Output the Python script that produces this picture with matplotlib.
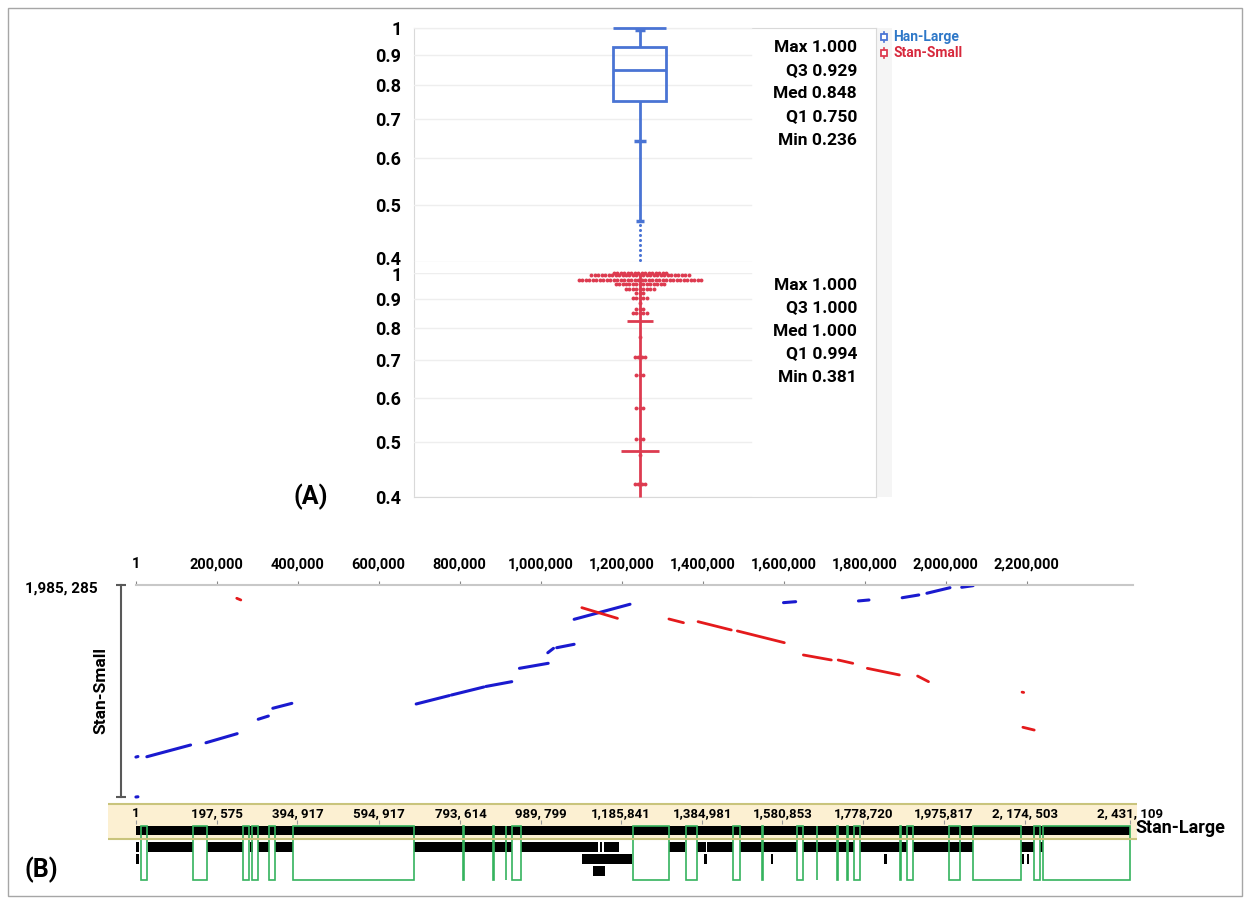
import numpy as np
import matplotlib
matplotlib.use("Agg")
import matplotlib.pyplot as plt
from matplotlib.patches import Rectangle
from matplotlib.lines import Line2D
from matplotlib.ticker import NullLocator, NullFormatter
from matplotlib.transforms import ScaledTranslation

plt.rcParams['font.family'] = ['Roboto', 'DejaVu Sans']
plt.rcParams['font.weight'] = 'bold'

W, H = 1250, 900

# ---------------- panel A data ----------------
ticks_a = [0.4, 0.5, 0.6, 0.7, 0.8, 0.9, 1.0]
tick_labels_a = ['0.4', '0.5', '0.6', '0.7', '0.8', '0.9', '1']
stat_names = ['Max', 'Q3', 'Med', 'Q1', 'Min']
han_stats = [1.000, 0.929, 0.848, 0.750, 0.236]
stan_stats = [1.000, 1.000, 1.000, 0.994, 0.381]

han_whisker_low = 0.469               # end of the solid lower whisker
han_marks = [0.992, 0.642, 0.469]     # short marks on the whisker
han_tail = [0.462, 0.453, 0.444, 0.436, 0.427, 0.419, 0.411, 0.403]

stan_rows = [1.000, 0.992, 0.972, 0.955, 0.937, 0.920, 0.902, 0.885, 0.863,
             0.848, 0.769, 0.708, 0.659, 0.575, 0.508, 0.475, 0.421]
stan_counts = [16, 29, 36, 15, 9, 3, 5, 1, 3, 5, 1, 4, 3, 3, 3, 1, 4]
stan_bars = [0.822, 0.482]

# ---------------- panel B data ----------------
top_ticks = [1, 200000, 400000, 600000, 800000, 1000000, 1200000,
             1400000, 1600000, 1800000, 2000000, 2200000]
top_labels = ['1', '200,000', '400,000', '600,000', '800,000', '1,000,000',
              '1,200,000', '1,400,000', '1,600,000', '1,800,000',
              '2,000,000', '2,200,000']
stan_small_len = 1985285

# (x0, y0, x1, y1): Stan-Large position vs Stan-Small position
fwd_segments = [
    (1000, 374000, 6000, 379000),
    (28000, 377000, 136000, 487000),
    (174000, 508000, 251000, 593000),
    (303000, 728000, 328000, 758000),
    (339000, 831000, 386000, 877000),
    (1000, 0, 6000, 2000),
    (693000, 871000, 775000, 950000),
    (780000, 955000, 860000, 1030000),
    (865000, 1035000, 929000, 1080000),
    (948000, 1205000, 1019000, 1252000),
    (1018000, 1351000, 1032000, 1392000),
    (1040000, 1398000, 1083000, 1430000),
    (1083000, 1664000, 1221000, 1805000),
    (1600000, 1820000, 1630000, 1829000),
    (1785000, 1836000, 1811000, 1845000),
    (1893000, 1866000, 1934000, 1892000),
    (1954000, 1908000, 2011000, 1960000),
    (2040000, 1964000, 2068000, 1979000),
]
rev_segments = [
    (250000, 1861000, 260000, 1845000),
    (1102000, 1773000, 1190000, 1673000),
    (1317000, 1667000, 1353000, 1632000),
    (1389000, 1642000, 1471000, 1564000),
    (1486000, 1555000, 1602000, 1445000),
    (1649000, 1330000, 1718000, 1283000),
    (1735000, 1283000, 1771000, 1252000),
    (1807000, 1205000, 1886000, 1143000),
    (1931000, 1133000, 1958000, 1080000),
    (2189000, 982000, 2193000, 979000),
    (2191000, 653000, 2219000, 627000),
]

track_ticks = [1, 197575, 394917, 594917, 793614, 989799, 1185841, 1384981,
               1580853, 1778720, 1975817, 2174503, 2431109]
track_labels = ['1', '197, 575', '394, 917', '594, 917', '793, 614',
                '989, 799', '1,185,841', '1,384,981', '1,580,853',
                '1,778,720', '1,975,817', '2, 174, 503', '2, 431, 109']
stan_large_len = 2431109

gaps = [(12000, 26000), (140000, 173000), (261000, 276000), (283000, 298000),
        (325000, 339000), (383000, 680000), (800000, 801000), (874000, 875000),
        (905000, 906000), (920000, 942000), (1215000, 1304000),
        (1344000, 1373000), (1461000, 1477000), (1532000, 1533000),
        (1616000, 1631000), (1665000, 1666000), (1715000, 1716000),
        (1740000, 1741000), (1757000, 1771000), (1869000, 1870000),
        (1885000, 1901000), (1989000, 2015000), (2048000, 2164000),
        (2197000, 2211000), (2219000, 2431109)]

row0 = [(1, 2431109)]
row1 = [(0, 8000), (30000, 140000), (173000, 261000), (279000, 285000),
        (298000, 325000), (339000, 383000), (680000, 920000),
        (942000, 1131000), (1135000, 1139000), (1145000, 1181000),
        (1304000, 1343000), (1373000, 1394000), (1397000, 1461000),
        (1477000, 1616000), (1631000, 1757000), (1771000, 1885000),
        (1901000, 2048000), (2164000, 2197000), (2211000, 2219000)]
row2 = [(0, 8000), (1092000, 1212000), (1388000, 1397000), (1552000, 1559000),
        (1829000, 1836000), (2166000, 2173000), (2178000, 2185000)]
row3 = [(1118000, 1147000)]

BOX_BLUE = '#4A74D4'
SWARM_RED = '#DD3B50'
DOT_BLUE = '#1A1ACF'
DOT_RED = '#E41A1C'
GREEN = '#35B35E'

fig = plt.figure(figsize=(W / 100, H / 100), dpi=100)


def px_axes(x0, y0, x1, y1):
    return fig.add_axes([x0 / W, 1 - y1 / H, (x1 - x0) / W, (y1 - y0) / H])


def fxy(x, y):
    return x / W, 1 - y / H


def nudge(label, dy_px):
    label.set_transform(label.get_transform() +
                        ScaledTranslation(0, dy_px / 100, fig.dpi_scale_trans))


# outer border
fig.add_artist(Rectangle(fxy(8, 896), 1234 / W, 888 / H, transform=fig.transFigure,
                         fill=False, ec='#A6A6A6', lw=1))

# ---------------- panel A ----------------
fig.add_artist(Rectangle(fxy(876, 497), 16 / W, 469 / H, transform=fig.transFigure,
                         color='#F5F5F5', lw=0, zorder=0))
axF = px_axes(414, 28, 876, 497)
axF.set_xticks([])
axF.set_yticks([])
axF.patch.set_visible(False)
for s in axF.spines.values():
    s.set_color('#D9D9D9')

axU = px_axes(414, 28, 876, 262)
axL = px_axes(414, 273, 876, 497)
for ax in (axU, axL):
    ax.set_yscale('log')
    ax.set_ylim(0.4, 1.0)
    ax.set_xlim(-4.264, 4.453)
    ax.patch.set_visible(False)
    for s in ax.spines.values():
        s.set_visible(False)
    ax.set_xticks([])
    ax.set_yticks(ticks_a)
    ax.set_yticklabels(tick_labels_a)
    ax.yaxis.set_minor_locator(NullLocator())
    ax.yaxis.set_minor_formatter(NullFormatter())
    ax.tick_params(axis='y', length=0, pad=9, labelsize=13)
    for v in ticks_a:
        ax.axhline(v, xmin=0, xmax=0.73, color='#EEEEEE', lw=1, zorder=0)
nudge(axU.get_yticklabels()[0], 4)
nudge(axL.get_yticklabels()[-1], -1)

# Han-Large box plot
mx, q3, med, q1, mn = han_stats
axU.add_patch(Rectangle((-0.5, q1), 1, q3 - q1, fill=False, ec=BOX_BLUE, lw=2))
axU.hlines(med, -0.5, 0.5, color=BOX_BLUE, lw=2)
axU.vlines(0, q3, mx, color=BOX_BLUE, lw=2)
axU.vlines(0, han_whisker_low, q1, color=BOX_BLUE, lw=2)
axU.hlines(mx, -0.5, 0.5, color=BOX_BLUE, lw=2, clip_on=False)
for v, w in zip(han_marks, [0.18, 0.24, 0.14]):
    axU.hlines(v, -w / 2, w / 2, color=BOX_BLUE, lw=2.5)
axU.plot([0] * len(han_tail), han_tail, 'o', ms=2.2, color=BOX_BLUE, mec='none',
         clip_on=False)

# Stan-Small swarm
axL.vlines(0, 0.4, stan_stats[0], color=SWARM_RED, lw=2, clip_on=False)
for v, w in zip(stan_bars, [0.5, 0.72]):
    axL.hlines(v, -w / 2, w / 2, color=SWARM_RED, lw=2)
step = 0.066
for v, n in zip(stan_rows, stan_counts):
    offs = (np.arange(n) - (n - 1) / 2) * step
    axL.plot(offs, [v] * n, 'o', ms=2.8, color=SWARM_RED, mec='none', clip_on=False)

for i, (name, val) in enumerate(zip(stat_names, han_stats)):
    fig.text(*fxy(857, 47 + 23.3 * i), f'{name} {val:.3f}', ha='right', va='center',
             fontsize=12.5)
for i, (name, val) in enumerate(zip(stat_names, stan_stats)):
    fig.text(*fxy(857, 285 + 23.0 * i), f'{name} {val:.3f}', ha='right', va='center',
             fontsize=12.5)

# legend
for y, name, col, tcol in [(37, 'Han-Large', BOX_BLUE, '#2E78C8'),
                           (53, 'Stan-Small', SWARM_RED, '#D7283C')]:
    fig.add_artist(Line2D([884 / W, 884 / W], [1 - (y - 5) / H, 1 - (y + 5) / H],
                          transform=fig.transFigure, color=col, lw=1.2))
    fig.add_artist(Line2D([884 / W], [1 - y / H], transform=fig.transFigure,
                          marker='s', ms=5, mfc='white', mec=col, mew=1.3))
    fig.text(*fxy(893, y), name, color=tcol, fontsize=10, va='center', ha='left')

fig.text(*fxy(311, 497), '(A)', fontsize=18, ha='center', va='center')

# ---------------- panel B: dot plot ----------------
axD = px_axes(135.5, 585, 1133, 797)
axD.set_xlim(0, 2462900)
axD.set_ylim(0, stan_small_len)
for x0, y0, x1, y1 in fwd_segments:
    axD.plot([x0, x1], [y0, y1], color=DOT_BLUE, lw=2.2, solid_capstyle='round',
             clip_on=False)
for x0, y0, x1, y1 in rev_segments:
    axD.plot([x0, x1], [y0, y1], color=DOT_RED, lw=2.0, solid_capstyle='round',
             clip_on=False)
for k in ('left', 'right', 'bottom'):
    axD.spines[k].set_visible(False)
axD.spines['top'].set_color('#C8C8C8')
axD.spines['top'].set_linewidth(1.5)
axD.xaxis.tick_top()
axD.set_xticks(top_ticks)
axD.set_xticklabels(top_labels)
axD.tick_params(axis='x', length=3, color='#888888', pad=7, labelsize=10.5)
axD.set_yticks([])
axD.patch.set_visible(False)
axD.plot([-0.0145, -0.0145], [0, 1], transform=axD.transAxes, clip_on=False,
         color='#595959', lw=1.5, marker='_', ms=7, mew=1.5)
fig.text(*fxy(61, 589), '1,985, 285', fontsize=11, ha='center', va='center')
fig.text(*fxy(101, 690), 'Stan-Small', fontsize=12.5, rotation=90, ha='center',
         va='center')

# ---------------- panel B: Stan-Large track ----------------
axT = px_axes(108, 800, 1137, 884)
axT.set_xlim(-68482, 2448246)
axT.set_ylim(4.46, -2.54)
axT.axis('off')
axT.axhspan(-2.21, 0.71, color='#FCF0D2', zorder=0, lw=0)
axT.axhline(-2.21, color='#C9C47C', lw=1.5)
axT.axhline(0.71, color='#C9C47C', lw=1.5)
for row, yc in zip([row0, row1, row2, row3], [0, 1.375, 2.375, 3.375]):
    axT.broken_barh([(s, e - s) for s, e in row], (yc - 0.4, 0.8),
                    facecolors='black', lw=0)
for s, e in gaps:
    axT.add_patch(Rectangle((s, -0.375), e - s, 4.5, fill=False, ec=GREEN, lw=1.2))
for pos, lab in zip(track_ticks, track_labels):
    axT.text(pos, -1.4, lab, ha='center', va='center', fontsize=9.5)
axT.vlines(track_ticks, -0.85, -0.55, color='#999999', lw=0.8)
fig.text(*fxy(1135, 828), 'Stan-Large', fontsize=13, ha='left', va='center')
fig.text(*fxy(41, 870), '(B)', fontsize=18, ha='center', va='center')

fig.savefig('out.png', dpi=100)
